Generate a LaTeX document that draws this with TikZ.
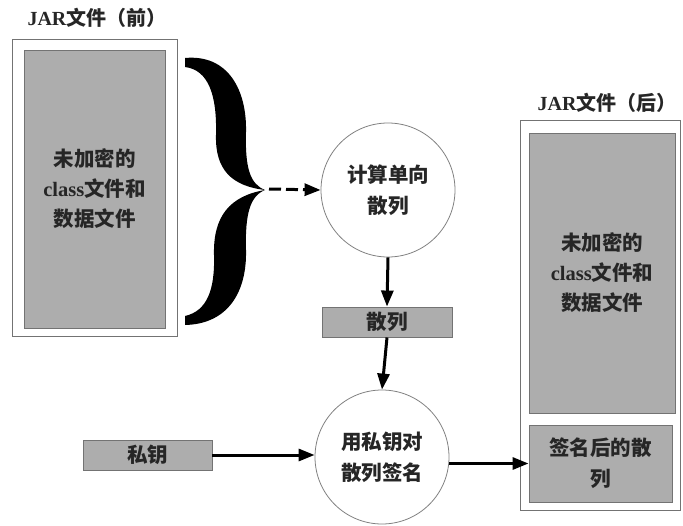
\documentclass[tikz,border=0pt]{standalone}
\usepackage{fontspec}
\setmainfont{Liberation Serif}
\newfontfamily\cjk{Noto Sans CJK SC}
\usetikzlibrary{arrows.meta}
\definecolor{boxgray}{gray}{0.68}
\definecolor{edgegray}{gray}{0.45}
\begin{document}
\begin{tikzpicture}[x=1pt,y=-1pt,
  outerbox/.style={draw=edgegray, line width=0.9pt, fill=white, inner sep=0pt},
  greybox/.style={draw=edgegray, line width=0.9pt, fill=boxgray, inner sep=2pt, align=center,
     text=black!85, font=\cjk\bfseries\fontsize{20.5}{30}\selectfont},
  title/.style={text=black!85, font=\cjk\bfseries\fontsize{20}{24}\selectfont},
  proc/.style={circle, draw=black!50, line width=0.8pt, fill=white, minimum size=134pt, inner sep=0pt,
     align=center, text=black!85, font=\cjk\bfseries\fontsize{20.5}{31}\selectfont},
  conn/.style={line width=3pt, -{Triangle[length=16pt,width=12pt]}},
  dconn/.style={conn, dash pattern=on 12pt off 5pt}]
\useasboundingbox (0,0) rectangle (683,525);

% left JAR
\node[title] (ltitle) at (97,18) {{\rmfamily JAR}文件（前）};
\node[outerbox, minimum width=165pt, minimum height=297pt] (louter) at (94.5,188) {};
\node[greybox, minimum width=141pt, minimum height=278pt] (linner) at (94.5,189)
  {未加密的\\{\rmfamily class}文件和\\数据文件};

% brace
\fill[black] (185,58) .. controls (228,54) and (247,90) .. (246,132)
  .. controls (245,168) and (250,184) .. (265,190)
  .. controls (250,196) and (245,214) .. (246,250)
  .. controls (247,292) and (228,324) .. (185,325)
  -- (185,316) .. controls (207,311) and (215,290) .. (214,255)
  .. controls (213,216) and (230,196) .. (265,190)
  .. controls (232,186) and (215,170) .. (216,135)
  .. controls (217,96) and (209,70) .. (185,67) -- cycle;
\coordinate (bracetip) at (269,189);

% process nodes
\node[proc] (c1) at (388,190) {计算单向\\散列};
\node[greybox, minimum width=130pt, minimum height=30pt, inner sep=0pt] (hash) at (387,322) {散列};
\node[proc] (c2) at (382,457) {用私钥对\\散列签名};
\node[greybox, minimum width=129pt, minimum height=30pt, inner sep=0pt] (key) at (147.5,455) {私钥};

% right JAR
\node[title] (rtitle) at (607,103) {{\rmfamily JAR}文件（后）};
\node[outerbox, minimum width=160pt, minimum height=390pt] (router) at (600,315) {};
\node[greybox, minimum width=146pt, minimum height=280pt] (rinner) at (602,273)
  {未加密的\\{\rmfamily class}文件和\\数据文件};
\node[greybox, minimum width=143pt, minimum height=77pt, font=\cjk\bfseries\fontsize{20.5}{31}\selectfont] (sig) at (600.5,463.5)
  {签名后的散\\列};

% connectors
\draw[dconn] (bracetip) -- (c1.west);
\draw[conn] (c1.south) -- (hash.north);
\draw[conn] (hash.south) -- (c2.north);
\draw[conn] (key.east) -- (key.east -| c2.west);
\draw[conn] (c2.east |- sig.west) -- (sig.west);
\end{tikzpicture}
\end{document}
